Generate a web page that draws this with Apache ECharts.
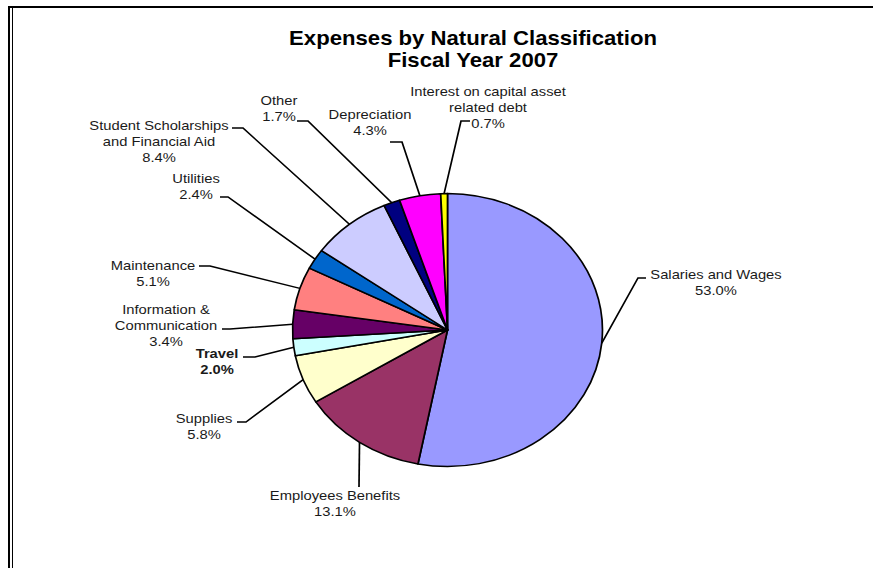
<!DOCTYPE html>
<html>
<head>
<meta charset="utf-8">
<script src="https://cdn.jsdelivr.net/npm/echarts@6/dist/echarts.min.js"></script>
<style>
html, body { margin: 0; padding: 0; background: #fff; }
#wrap { position: relative; width: 873px; height: 568px; overflow: hidden; }
/* the source picture is stretched sideways, so the chart is drawn narrow and widened */
#main { position: absolute; left: 0; top: 0; width: 769px; height: 568px; transform-origin: 0 0; transform: scaleX(1.13524); }
</style>
</head>
<body>
<div id="wrap"><div id="main"></div></div>
<script>
// data
var categories = ['Salaries and Wages', 'Employees Benefits', 'Supplies', 'Travel',
	'Information &\nCommunication', 'Maintenance', 'Utilities',
	'Student Scholarships\nand Financial Aid', 'Other', 'Depreciation',
	'Interest on capital asset\nrelated debt'];
var percents = [53.0, 13.1, 5.8, 2.0, 3.4, 5.1, 2.4, 8.4, 1.7, 4.3, 0.7];
var colors = ['#9999FF', '#993366', '#FFFFCC', '#CCFFFF', '#660066', '#FF8080',
	'#0066CC', '#CCCCFF', '#000080', '#FF00FF', '#FFFF00'];

//label placement, in picture pixels
var sx = 873 / 769;
var labelAt = [[716, 282], [335, 503], [204, 426], [217, 361], [166, 325], [153, 273],
	[196, 186], [159, 141], [279, 108], [370, 122], [488, 107]];
var lineKnee = [[638, 278], [359, 487], [246, 422], [255, 357], [230, 329], [210, 266],
	[228, 197], [243, 128], [308, 121], [402, 142], [461, 121]];
var lineEnd = [[646, 278], [359, 487], [237, 422], [243, 357], [222, 329], [199, 266],
	[220, 197], [232, 128], [297, 121], [390, 142], [470, 121]];

function px(p) {
	return [p[0] / sx, p[1]];
}

var pieData = [];
for(var i = 0; i < categories.length; i++) {
	var item = {
		name: categories[i],
		value: percents[i],
		itemStyle: { color: colors[i] }
	};
	if(categories[i] == 'Travel') {
		item.label = { fontWeight: 'bold' };
	}
	pieData.push(item);
}

var chart = echarts.init(document.getElementById('main'), null, { renderer: 'svg' });
chart.setOption({
	animation: false,
	graphic: [
		{ type: 'rect', shape: { x: 8 / sx, y: 6, width: 873, height: 2 }, style: { fill: '#000' } },
		{ type: 'rect', shape: { x: 8 / sx, y: 6, width: 2 / sx, height: 562 }, style: { fill: '#000' } },
		{ type: 'rect', shape: { x: 12 / sx, y: 8, width: 1 / sx, height: 560 }, style: { fill: '#000' } },
		{
			type: 'text',
			x: 473 / sx,
			y: 49,
			style: {
				text: 'Expenses by Natural Classification\nFiscal Year 2007',
				font: 'bold 19.5px "Liberation Sans", Arial, sans-serif',
				fill: '#000',
				align: 'center',
				verticalAlign: 'middle',
				lineHeight: 22
			}
		}
	],
	series: [{
		type: 'pie',
		center: [447.5 / sx, 330],
		radius: 136.5,
		startAngle: 90,
		clockwise: true,
		avoidLabelOverlap: false,
		silent: true,
		itemStyle: {
			borderColor: '#000',
			borderWidth: 1.5
		},
		label: {
			show: true,
			position: 'outside',
			fontFamily: '"Liberation Sans", Arial, sans-serif',
			fontSize: 13,
			lineHeight: 16,
			color: '#1a1a1a',
			formatter: function(p) {
				return p.name + '\n' + p.value.toFixed(1) + '%';
			}
		},
		labelLine: {
			show: true,
			lineStyle: { color: '#000', width: 1.5 }
		},
		labelLayout: function(params) {
			var i = params.dataIndex;
			var a = px(labelAt[i]);
			return {
				x: a[0],
				y: a[1],
				align: 'center',
				verticalAlign: 'middle',
				labelLinePoints: [params.labelLinePoints[0], px(lineKnee[i]), px(lineEnd[i])]
			};
		},
		data: pieData
	}]
});
</script>
</body>
</html>
